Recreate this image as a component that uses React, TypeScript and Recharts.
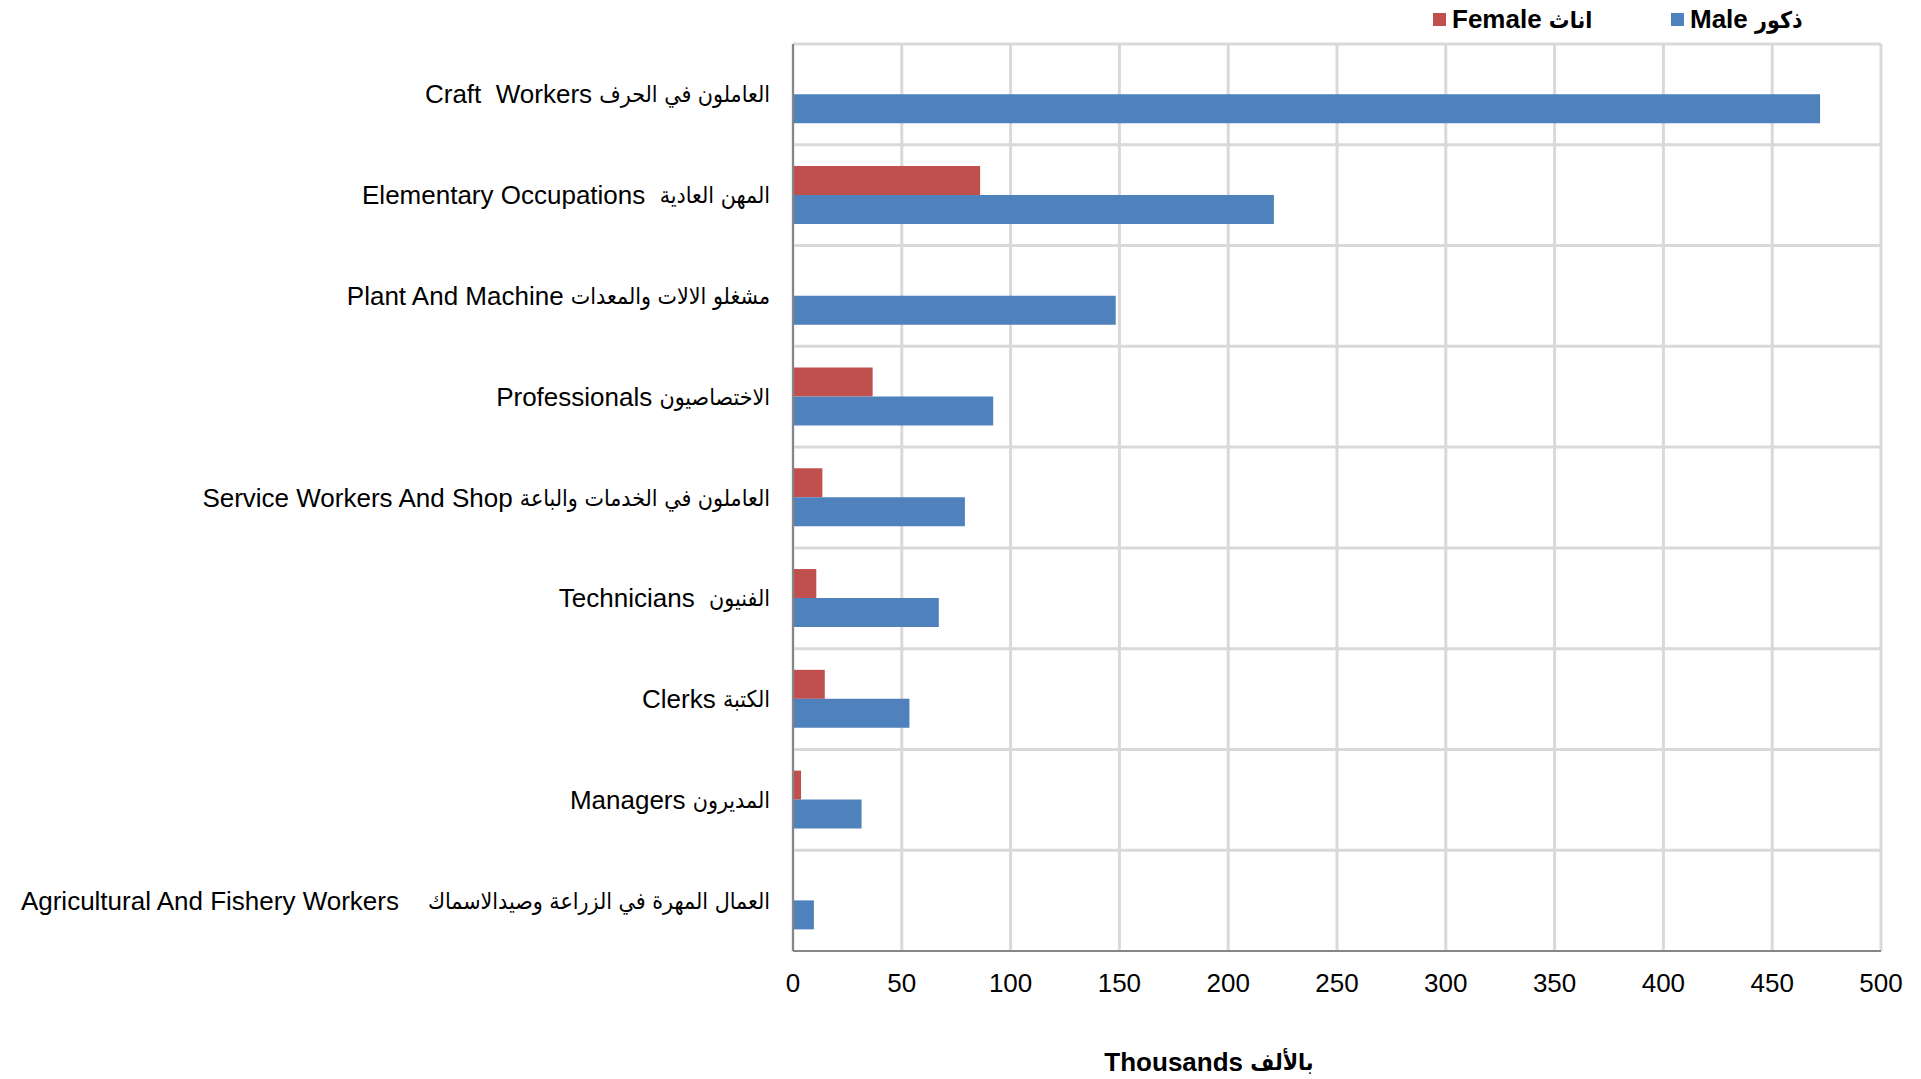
import React from 'react';
import { BarChart, Bar, XAxis, YAxis, CartesianGrid, Legend, Label } from 'recharts';

const categoriesEn = [
  'Craft  Workers',
  'Elementary Occupations',
  'Plant And Machine',
  'Professionals',
  'Service Workers And Shop',
  'Technicians',
  'Clerks',
  'Managers',
  'Agricultural And Fishery Workers',
];
const categoriesAr = [
  'العاملون في الحرف',
  'المهن العادية',
  'مشغلو الالات والمعدات',
  'الاختصاصيون',
  'العاملون في الخدمات والباعة',
  'الفنيون',
  'الكتبة',
  'المديرون',
  'العمال المهرة في الزراعة وصيدالاسماك',
];
const gapAfterEn = [1, 2, 1, 1, 1, 2, 1, 1, 4];
const femaleValues = [0, 86, 0.3, 36.6, 13.5, 10.7, 14.6, 3.7, 0];
const maleValues = [472, 221, 148.3, 92, 79, 67, 53.5, 31.5, 9.6];
const xTicks = [0, 50, 100, 150, 200, 250, 300, 350, 400, 450, 500];

const FEMALE_EN = 'Female';
const FEMALE_AR = 'اناث';
const MALE_EN = 'Male';
const MALE_AR = 'ذكور';
const FEMALE_COLOR = '#c0504d';
const MALE_COLOR = '#4f81bd';
const FONT = '"Liberation Sans", Arial, sans-serif';
const AR_FONT = '"DejaVu Sans Condensed", "DejaVu Sans", sans-serif';

const data = categoriesEn.map((c, i) => ({ name: i, female: femaleValues[i], male: maleValues[i] }));

const YTick = (props: any) => {
  const { x, y, payload } = props;
  const i = payload.value as number;
  return (
    <text x={x} y={y} textAnchor="end" dominantBaseline="central" fontSize={26} fontFamily={FONT} fill="#000" style={{ whiteSpace: 'pre' }}>
      <tspan>{categoriesEn[i] + '\u00a0'.repeat(gapAfterEn[i])}</tspan>
      <tspan fontFamily={AR_FONT} fontSize={23}>{categoriesAr[i]}</tspan>
    </text>
  );
};

const XTick = (props: any) => {
  const { x, y, payload } = props;
  return (
    <text x={x} y={y + 30} textAnchor="middle" dominantBaseline="central" fontSize={26} fontFamily={FONT} fill="#000">
      {payload.value}
    </text>
  );
};

const LegendContent = () => (
  <div style={{ position: 'relative', width: 1921, height: 44, fontFamily: FONT, fontWeight: 'bold', fontSize: 26 }}>
    <div style={{ position: 'absolute', left: 1433, top: 13, width: 13, height: 13, background: FEMALE_COLOR }} />
    <div style={{ position: 'absolute', left: 1452, top: 4, lineHeight: '30px', whiteSpace: 'nowrap' }}>
      {FEMALE_EN} <span style={{ fontFamily: AR_FONT, fontSize: 23 }}>{FEMALE_AR}</span>
    </div>
    <div style={{ position: 'absolute', left: 1671, top: 13, width: 13, height: 13, background: MALE_COLOR }} />
    <div style={{ position: 'absolute', left: 1690, top: 4, lineHeight: '30px', whiteSpace: 'nowrap' }}>
      {MALE_EN} <span style={{ fontFamily: AR_FONT, fontSize: 23 }}>{MALE_AR}</span>
    </div>
  </div>
);

const TitleContent = (props: any) => {
  const vb = props.viewBox || { x: 0, y: 0, width: 0, height: 0 };
  return (
    <text
      x={vb.x + vb.width / 2 - 128}
      y={vb.y + 111}
      textAnchor="middle"
      dominantBaseline="central"
      fontSize={26}
      fontWeight="bold"
      fontFamily={FONT}
      fill="#000"
    >
      <tspan>Thousands </tspan>
      <tspan fontFamily={AR_FONT} fontSize={23}>بالألف</tspan>
    </text>
  );
};

export default function App() {
  return (
    <div style={{ position: 'absolute', left: 0, top: 0, width: 1921, height: 1079, background: '#fff' }}>
      <BarChart
        width={1921}
        height={1079}
        data={data}
        layout="vertical"
        margin={{ top: 0, right: 40, bottom: 98, left: 0 }}
        barCategoryGap="21%"
        barGap={0}
      >
        <CartesianGrid
          stroke="#d9d9d9"
          strokeWidth={3}
          horizontalCoordinatesGenerator={({ offset }: any) =>
            categoriesEn.map((_, i) => offset.top + (i * offset.height) / categoriesEn.length)
          }
        />
        <XAxis
          type="number"
          domain={[0, 500]}
          ticks={xTicks}
          interval={0}
          tickLine={false}
          tickSize={0}
          axisLine={{ stroke: '#868686', strokeWidth: 2 }}
          tick={<XTick />}
          height={30}
        >
          <Label content={<TitleContent />} />
        </XAxis>
        <YAxis
          type="category"
          dataKey="name"
          width={793}
          tickLine={false}
          tickSize={0}
          tickMargin={23}
          axisLine={{ stroke: '#868686', strokeWidth: 2 }}
          tick={<YTick />}
          interval={0}
        />
        <Legend verticalAlign="top" height={44} content={<LegendContent />} wrapperStyle={{ left: 0, top: 0, width: 1921, height: 44 }} />
        <Bar dataKey="female" name="Female اناث" fill={FEMALE_COLOR} isAnimationActive={false} />
        <Bar dataKey="male" name="Male ذكور" fill={MALE_COLOR} isAnimationActive={false} />
      </BarChart>
    </div>
  );
}
